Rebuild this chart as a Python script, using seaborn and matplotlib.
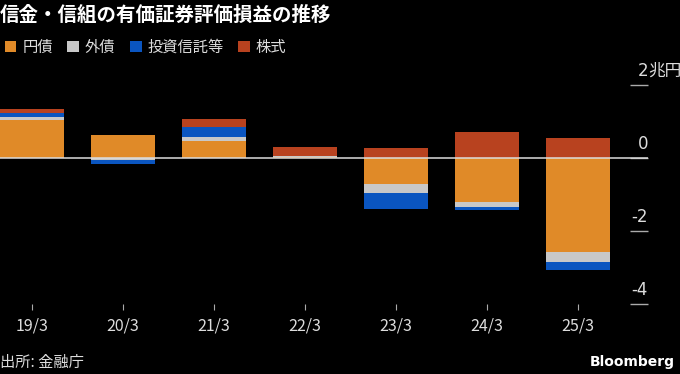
import numpy as np
import pandas as pd
import matplotlib
matplotlib.use('Agg')
import matplotlib.pyplot as plt
import matplotlib.transforms as mtransforms
from matplotlib.patches import Patch
import seaborn as sns

sns.set_style("dark")
plt.rcParams['font.family'] = ['Noto Sans CJK JP', 'DejaVu Sans']

# data (trillion yen)
periods = ['19/3', '20/3', '21/3', '22/3', '23/3', '24/3', '25/3']
yen_bonds = [1.04, 0.63, 0.47, 0.02, -0.72, -1.22, -2.58]
foreign_bonds = [0.07, -0.05, 0.10, 0.04, -0.25, -0.12, -0.28]
inv_trusts = [0.11, -0.12, 0.27, 0.0, -0.43, -0.10, -0.21]
stocks = [0.11, 0.0, 0.21, 0.24, 0.27, 0.71, 0.53]

series_names = ['円債', '外債', '投資信託等', '株式']
series_vals = [yen_bonds, foreign_bonds, inv_trusts, stocks]
colors = ['#E08A28', '#C8C8C8', '#0A55C0', '#B8421F']

y_ticks = [2, 0, -2, -4]

bg = 'black'
fig = plt.figure(figsize=(6.8, 3.74), dpi=100, facecolor=bg)
ax = fig.add_axes([0.0, 0.188, 0.953, 0.605])
ax.set_facecolor(bg)

pos_base = np.zeros(len(periods))
neg_base = np.zeros(len(periods))
for name, vals, col in zip(series_names, series_vals, colors):
    v = np.array(vals, dtype=float)
    bottom = np.where(v >= 0, pos_base, neg_base)
    df = pd.DataFrame({'period': periods, 'value': v})
    sns.barplot(data=df, x='period', y='value', order=periods, color=col,
                width=0.7, bottom=bottom, linewidth=0, saturation=1,
                ax=ax, zorder=2)
    pos_base = pos_base + np.clip(v, 0, None)
    neg_base = neg_base + np.clip(v, None, 0)

ax.axhline(0, color='#dcdcdc', lw=1.1, zorder=4)

ax.set_xlim(-0.35, 6.77)
ax.set_ylim(-4, 2.2)
ax.set_xlabel('')
ax.set_ylabel('')
ax.grid(False)
for s in ax.spines.values():
    s.set_visible(False)

ax.tick_params(axis='x', bottom=True, colors='#aaaaaa', length=4, width=0.8,
               pad=6, labelcolor='#dddddd', labelsize=11.5)
ax.yaxis.tick_right()
ax.set_yticks(y_ticks)
ax.set_yticklabels([])
ax.tick_params(axis='y', right=True, direction='in', length=13, width=1,
               colors='#aaaaaa', pad=0)

lab_off = mtransforms.offset_copy(ax.get_yaxis_transform(), fig=fig, x=0, y=5, units='dots')
for t in y_ticks:
    ax.text(1.0, t, str(t), transform=lab_off, ha='right', va='bottom',
            color='#dddddd', fontsize=12, family=['DejaVu Sans'])
ax.text(1.0, 2, '兆円', transform=lab_off, ha='left', va='bottom',
        color='#dddddd', fontsize=12)

fig.text(0.0, 0.958, '信金・信組の有価証券評価損益の推移', color='white',
         fontsize=14, fontweight='bold', ha='left', va='center')

handles = [Patch(facecolor=c, edgecolor='none', label=n) for n, c in zip(series_names, colors)]
leg = fig.legend(handles=handles, loc='center left', bbox_to_anchor=(-0.013, 0.874),
                 ncol=4, frameon=False, fontsize=11, handlelength=0.75,
                 handleheight=0.75, handletextpad=0.4, columnspacing=0.95)
for txt in leg.get_texts():
    txt.set_color('#dddddd')

fig.text(0.0, 0.032, '出所: 金融庁', color='#dddddd', fontsize=11,
         ha='left', va='center')
fig.text(0.992, 0.021, 'Bloomberg', color='white', fontsize=10,
         fontweight='bold', ha='right', va='baseline', family=['DejaVu Sans'])

fig.savefig('out.png', dpi=100, facecolor=bg)
